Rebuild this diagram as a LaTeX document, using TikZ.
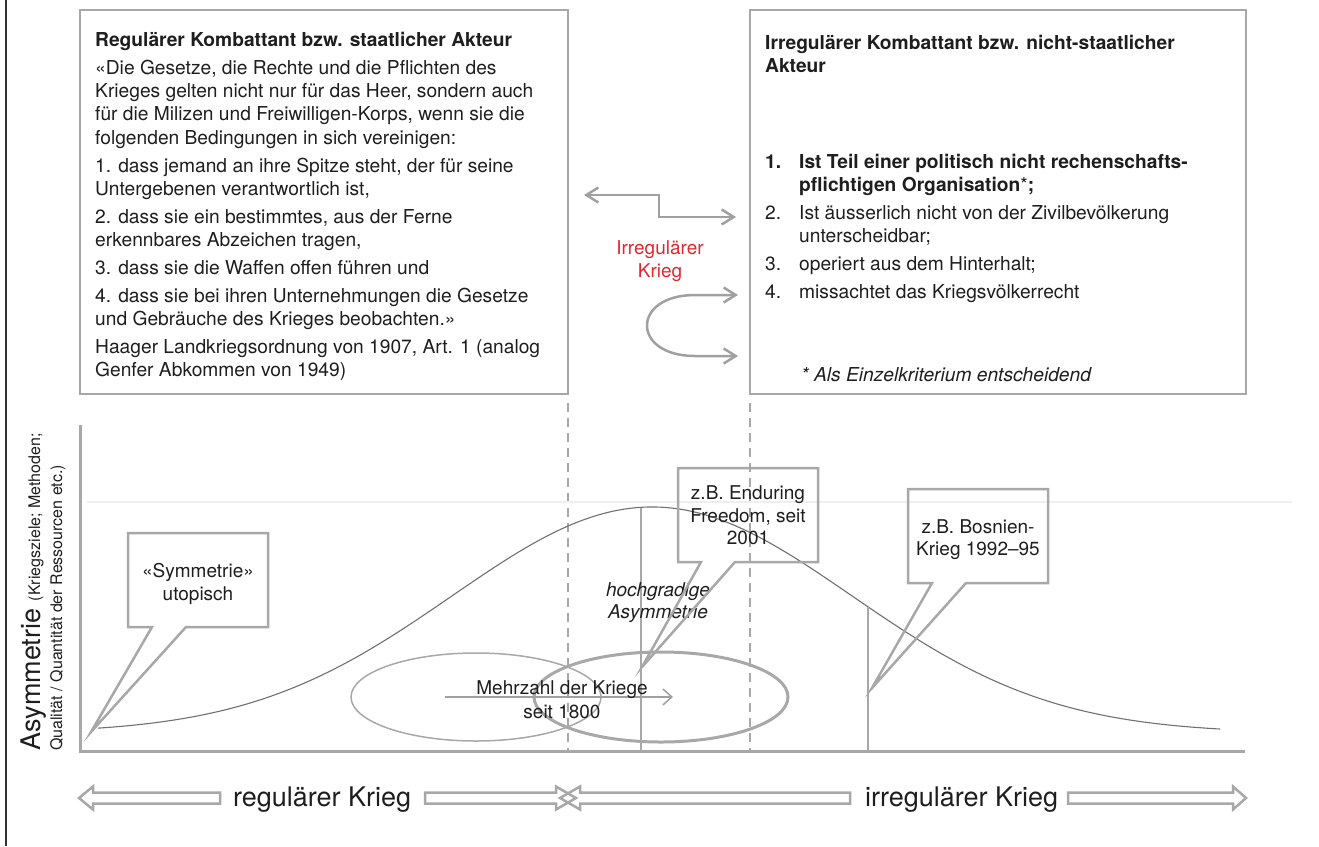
\documentclass[tikz,border=0pt]{standalone}
\usepackage{fontspec}
\setmainfont{TeX Gyre Heros}
\usetikzlibrary{arrows.meta}
\definecolor{bx}{HTML}{A8A8A8}
\definecolor{ln}{HTML}{A0A0A0}
\definecolor{tx}{HTML}{1E1E1E}
\definecolor{rd}{HTML}{E2252E}
\definecolor{cv}{HTML}{707070}
\definecolor{faint}{HTML}{EFEFEF}
\definecolor{frame}{HTML}{333333}
\begin{document}
\begin{tikzpicture}[x=1pt,y=-1pt,
  txt/.style={font=\fontsize{19.2}{23}\selectfont, text=tx, inner sep=0pt, anchor=base west},
  ttl/.style={txt, font=\fontsize{19.2}{23}\selectfont\bfseries},
  ctr/.style={font=\fontsize{19}{23}\selectfont, text=tx, inner sep=0pt, anchor=base},
  big/.style={font=\fontsize{27}{32}\selectfont, text=tx, inner sep=0pt, anchor=base west},
  small/.style={font=\fontsize{16}{20}\selectfont, text=tx, inner sep=0pt, anchor=base west},
  boxline/.style={draw=bx, line width=2.5pt},
  callout/.style={draw=bx, line width=2.5pt, line join=miter},
  midarrow/.style={draw=ln, line width=2.5pt, arrows={Straight Barb[length=12pt,width=15pt]-Straight Barb[length=12pt,width=15pt]}},
  hollow/.style={draw=bx, line width=2.5pt, line join=miter},
  axisline/.style={draw=bx, line width=3pt},
  thinline/.style={draw=bx, line width=1.5pt},
  dashline/.style={draw=bx, line width=1.5pt, dash pattern=on 9pt off 6pt},
  curve/.style={draw=cv, line width=1.1pt}
]
\useasboundingbox (0,0) rectangle (1319,846);
% left frame line
\draw[draw=frame, line width=2pt] (6,0) -- (6,846);

% top boxes
\draw[boxline] (80,10) rectangle (568,394);
\draw[boxline] (750,10) rectangle (1246,394);

% left box text
\node[ttl] (lt) at (95,46) {Regulärer Kombattant bzw. staatlicher Akteur};
\node[txt] (l1) at (95,74) {«Die Gesetze, die Rechte und die Pflichten des};
\node[txt] (l2) at (95,97.3) {Krieges gelten nicht nur für das Heer, sondern auch};
\node[txt] (l3) at (95,120.6) {für die Milizen und Freiwilligen-Korps, wenn sie die};
\node[txt] (l4) at (95,144) {folgenden Bedingungen in sich vereinigen:};
\node[txt] (l5) at (95,172) {1. dass jemand an ihre Spitze steht, der für seine};
\node[txt] (l6) at (95,195.3) {Untergebenen verantwortlich ist,};
\node[txt] (l7) at (95,223) {2. dass sie ein bestimmtes, aus der Ferne};
\node[txt] (l8) at (95,246.3) {erkennbares Abzeichen tragen,};
\node[txt] (l9) at (95,274) {3. dass sie die Waffen offen führen und};
\node[txt] (l10) at (95,302) {4. dass sie bei ihren Unternehmungen die Gesetze};
\node[txt] (l11) at (95,325.3) {und Gebräuche des Krieges beobachten.»};
\node[txt] (l12) at (95,353) {Haager Landkriegsordnung von 1907, Art. 1 (analog};
\node[txt] (l13) at (95,376.3) {Genfer Abkommen von 1949)};

% right box text
\node[ttl] (rt1) at (765,49) {Irregulärer Kombattant bzw. nicht-staatlicher};
\node[ttl] (rt2) at (765,72.3) {Akteur};
\node[ttl] (rn1) at (765,168) {1.};
\node[ttl] (r1a) at (799,168) {Ist Teil einer politisch nicht rechenschafts-};
\node[ttl] (r1b) at (799,191) {pflichtigen Organisation{\mdseries*};};
\node[txt] (rn2) at (765,219) {2.};
\node[txt] (r2a) at (799,219) {Ist äusserlich nicht von der Zivilbevölkerung};
\node[txt] (r2b) at (799,242.3) {unterscheidbar;};
\node[txt] (rn3) at (765,270) {3.};
\node[txt] (r3) at (799,270) {operiert aus dem Hinterhalt;};
\node[txt] (rn4) at (765,298) {4.};
\node[txt] (r4) at (799,298) {missachtet das Kriegsvölkerrecht};
\node[txt, font=\fontsize{19.2}{23}\selectfont\itshape] (rfoot) at (801,381) {* Als Einzelkriterium entscheidend};

% middle arrows and red label
\coordinate (ua) at (584,195);
\coordinate (ub) at (736,217);
\draw[midarrow] (ua) -- (659,195) -- (659,217) -- (ub);
\node[ctr, text=rd] (irr1) at (660,254) {Irregulärer};
\node[ctr, text=rd] (irr2) at (660,277) {Krieg};
\coordinate (ca) at (738,295);
\coordinate (cb) at (738,356);
\draw[midarrow] (ca) -- (695,295) .. controls (631,295) and (631,356) .. (695,356) -- (cb);

% dashed separators
\draw[dashline] (568,403) -- (568,751);
\draw[dashline] (750,403) -- (750,751);

% faint reference line
\draw[draw=faint, line width=1.5pt] (87,502) -- (1292,502);

% axes
\draw[axisline] (80,425) -- (80,751) -- (1245,751);

% bell curve
\draw[curve] plot[domain=98:1220, samples=200, smooth] (\x, {733-226*exp(-0.5*((\x-652)/200)^2)});

% vertical markers
\draw[thinline] (641,507.5) -- (641,751);
\draw[thinline] (868,{733-226*exp(-0.5*((868-652)/200)^2)}) -- (868,751);

% ellipses and arrow
\draw[draw=bx, line width=1.5pt] (476,697) ellipse [x radius=125pt, y radius=44pt];
\draw[draw=bx, line width=3pt] (661,697) ellipse [x radius=127pt, y radius=45pt];
\coordinate (ma) at (445,697);
\coordinate (mb) at (673,697);
\draw[draw=ln, line width=1.5pt, -{Straight Barb[length=9pt,width=16pt]}] (ma) -- (mb);
\node[ctr] (mz1) at (562,694) {Mehrzahl der Kriege};
\node[ctr] (mz2) at (562,718) {seit 1800};
\node[ctr, font=\fontsize{19}{23}\selectfont\itshape] (hg1) at (658,596) {hochgradige};
\node[ctr, font=\fontsize{19}{23}\selectfont\itshape] (hg2) at (658,618) {Asymmetrie};

% callouts
\draw[callout] (128,533) -- (268,533) -- (268,627) -- (186,627) -- (91,732) -- (152,627) -- (128,627) -- cycle;
\node[ctr] (sy1) at (198,577) {«Symmetrie»};
\node[ctr] (sy2) at (198,600) {utopisch};
\draw[callout] (678,468) -- (818,468) -- (818,562) -- (735,562) -- (642,667) -- (701,562) -- (678,562) -- cycle;
\node[ctr] (ef1) at (748,499) {z.B. Enduring};
\node[ctr] (ef2) at (748,522) {Freedom, seit};
\node[ctr] (ef3) at (748,544) {2001};
\draw[callout] (908,489) -- (1048,489) -- (1048,583) -- (966,583) -- (872,688) -- (932,583) -- (908,583) -- cycle;
\node[ctr] (bo1) at (978,533) {z.B. Bosnien-};
\node[ctr] (bo2) at (978,555) {Krieg 1992–95};

% y-axis label
\node[big, rotate=90] (yl1) at (40,751) {Asymmetrie {\fontsize{16}{20}\selectfont (Kriegsziele; Methoden;}};
\node[small, rotate=90] (yl2) at (62,751) {Qualität / Quantität der Ressourcen etc.)};

% bottom hollow arrows
\draw[hollow] (79,798) -- (93,786.5) -- (93,792.5) -- (220,792.5) -- (220,803.5) -- (93,803.5) -- (93,809.5) -- cycle;
\node[big] (reg) at (233,806) {regulärer Krieg};
\draw[hollow] (576,798) -- (556,786.5) -- (556,792.5) -- (425,792.5) -- (425,803.5) -- (556,803.5) -- (556,809.5) -- cycle;
\draw[hollow] (560,798) -- (580,786.5) -- (580,792.5) -- (850,792.5) -- (850,803.5) -- (580,803.5) -- (580,809.5) -- cycle;
\node[big] (irreg) at (865,806) {irregulärer Krieg};
\draw[hollow] (1246,798) -- (1233,786.5) -- (1233,792.5) -- (1068,792.5) -- (1068,803.5) -- (1233,803.5) -- (1233,809.5) -- cycle;
\end{tikzpicture}
\end{document}
